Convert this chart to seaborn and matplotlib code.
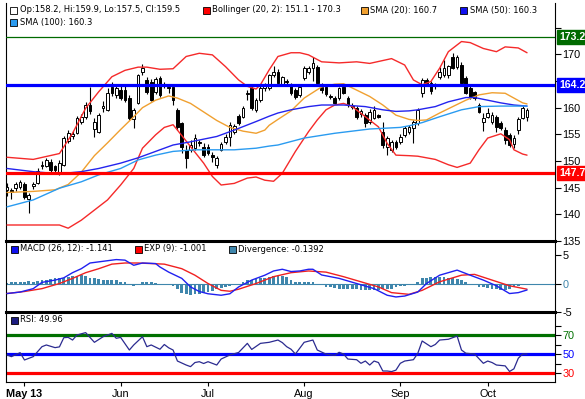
import matplotlib
matplotlib.use("Agg")
import matplotlib.pyplot as plt
import matplotlib.transforms as mtransforms
from matplotlib.patches import Rectangle
import seaborn as sns

# ------------------------------------------------------------------ data
month_ticks = [4, 26, 46, 68, 90, 110]
month_labels = ["May 13", "Jun", "Jul", "Aug", "Sep", "Oct"]

opens = [144.6, 144.6, 145.0, 145.2, 145.7, 142.9, 145.3, 145.8, 149.0, 149.0,
         149.9, 149.0, 147.8, 149.3, 153.8, 154.6, 155.3, 157.4, 158.3, 160.5,
         156.0, 155.5, 160.0, 159.6, 163.9, 162.4, 163.3, 163.3, 161.8, 157.9,
         160.9, 166.6, 165.2, 164.9, 163.0, 165.6, 164.2, 163.9, 163.9, 159.6,
         157.1, 152.1, 152.0, 152.4, 153.6, 152.6, 152.6, 151.1, 149.3, 152.1,
         153.6, 154.5, 155.4, 158.4, 158.3, 162.6, 163.7, 159.6, 161.4, 163.7,
         163.7, 166.1, 166.7, 164.3, 165.0, 164.3, 163.3, 162.4, 165.6, 166.6,
         167.5, 167.6, 163.9, 163.9, 162.1, 161.8, 161.8, 163.9, 161.8, 160.3,
         160.0, 158.8, 158.6, 157.3, 158.1, 158.6, 155.5, 152.6, 152.1, 153.6,
         153.6, 154.9, 155.4, 156.2, 157.1, 162.8, 165.2, 164.6, 164.0, 165.8,
         166.1, 166.1, 169.5, 167.6, 168.0, 165.6, 163.7, 162.9, 160.5, 157.3,
         158.3, 157.3, 158.3, 157.1, 155.8, 154.9, 153.2, 155.8, 158.1, 158.2]
highs = [145.8, 145.0, 146.0, 146.5, 146.0, 144.0, 146.0, 148.6, 150.0, 150.6,
         150.4, 149.3, 150.2, 154.6, 155.8, 155.6, 158.4, 158.8, 161.0, 163.9,
         158.0, 159.0, 161.2, 163.6, 164.8, 164.3, 164.3, 164.0, 162.4, 160.0,
         166.4, 168.2, 165.8, 165.4, 165.8, 166.0, 164.8, 164.5, 164.2, 160.0,
         157.4, 153.0, 154.0, 155.0, 154.0, 153.4, 153.2, 151.6, 151.0, 153.6,
         155.0, 157.3, 157.0, 158.8, 160.4, 163.4, 164.4, 161.8, 164.0, 164.6,
         166.4, 167.8, 167.2, 166.0, 165.4, 164.6, 163.6, 164.2, 167.8, 167.8,
         169.5, 168.0, 164.6, 164.2, 162.6, 162.2, 163.9, 164.3, 162.2, 160.8,
         160.3, 159.7, 159.0, 159.8, 160.4, 158.9, 157.3, 154.6, 154.0, 154.0,
         155.0, 156.5, 156.8, 157.6, 160.0, 165.5, 165.6, 165.0, 164.6, 167.6,
         169.0, 168.0, 170.2, 169.8, 168.6, 166.0, 164.0, 163.2, 160.9, 159.0,
         160.0, 159.2, 158.7, 157.5, 156.4, 155.3, 154.9, 158.2, 160.3, 159.9]
lows = [143.5, 142.8, 144.3, 144.8, 142.8, 140.3, 144.8, 145.6, 148.5, 148.8,
        148.0, 148.0, 147.3, 149.0, 153.4, 154.2, 155.0, 157.0, 157.8, 158.9,
        154.5, 155.2, 159.2, 159.3, 162.2, 161.8, 161.4, 161.0, 157.6, 156.2,
        160.6, 166.2, 162.5, 161.2, 162.6, 162.0, 163.6, 162.8, 160.5, 155.8,
        151.5, 148.7, 151.6, 152.0, 152.8, 150.8, 151.2, 149.8, 148.6, 151.8,
        153.2, 152.8, 155.0, 156.8, 158.0, 161.5, 159.5, 159.2, 161.0, 163.2,
        163.3, 165.8, 164.2, 164.0, 164.3, 162.4, 161.6, 162.0, 165.2, 166.3,
        165.0, 164.3, 162.8, 162.2, 161.6, 160.6, 161.4, 162.5, 160.2, 159.8,
        157.8, 158.2, 156.4, 157.0, 157.8, 158.0, 152.5, 151.1, 151.6, 152.2,
        153.2, 154.5, 155.0, 153.4, 156.8, 162.0, 164.0, 162.6, 163.5, 165.4,
        165.8, 165.6, 167.2, 167.3, 164.2, 162.5, 161.6, 161.5, 159.0, 155.6,
        158.0, 157.0, 155.4, 155.8, 153.2, 152.6, 152.4, 155.0, 157.8, 157.5]
closes = [145.2, 144.2, 145.7, 146.1, 143.2, 143.6, 145.6, 148.2, 149.3, 150.2,
          148.4, 148.3, 149.6, 154.3, 155.3, 155.0, 158.1, 158.3, 160.5, 159.3,
          157.4, 158.6, 160.3, 162.8, 162.7, 163.7, 161.8, 161.4, 158.1, 159.6,
          166.2, 167.5, 162.9, 161.5, 165.3, 162.4, 164.3, 163.6, 161.4, 156.4,
          152.6, 150.6, 153.0, 154.3, 153.3, 151.1, 151.5, 150.8, 150.6, 153.2,
          154.5, 156.8, 156.6, 157.2, 160.0, 162.8, 160.0, 161.4, 163.7, 164.3,
          166.1, 166.6, 164.6, 165.8, 164.8, 162.8, 162.0, 163.9, 167.5, 167.5,
          168.4, 164.6, 163.3, 162.6, 162.0, 160.9, 163.7, 162.8, 160.5, 160.2,
          158.3, 159.4, 157.1, 159.2, 159.6, 158.2, 153.0, 154.3, 153.6, 152.6,
          154.5, 156.2, 156.4, 157.3, 159.6, 165.2, 164.6, 163.1, 164.2, 166.7,
          167.4, 167.8, 167.5, 169.5, 164.6, 162.8, 162.0, 161.8, 159.2, 158.1,
          159.0, 158.6, 156.4, 156.2, 154.0, 153.0, 154.3, 157.9, 160.0, 159.5]

sma20_x = [0, 6, 11, 14, 17, 20, 23, 26, 29, 31, 34, 37, 39, 42, 45, 48, 51, 54,
           57, 59, 60, 62, 65, 68, 72, 75, 77, 80, 83, 86, 89, 92, 94, 96, 99,
           102, 105, 108, 111, 114, 116, 118, 119]
sma20_v = [144.1, 144.3, 144.6, 145.6, 147.9, 151.0, 153.4, 155.9, 158.3, 160.0,
           161.4, 162.2, 161.8, 160.8, 159.2, 157.6, 156.3, 155.6, 155.2, 155.8,
           156.7, 157.8, 159.4, 161.8, 163.9, 164.4, 164.5, 163.3, 162.1, 160.5,
           158.6, 157.8, 157.6, 157.7, 159.0, 160.2, 161.4, 162.4, 162.8, 162.7,
           161.8, 160.9, 160.7]

sma50_x = [0, 6, 12, 17, 21, 26, 30, 34, 38, 42, 48, 52, 57, 60, 62, 65, 69, 72,
           77, 82, 86, 89, 92, 94, 98, 101, 105, 107, 110, 113, 116, 119]
sma50_v = [148.6, 148.0, 147.6, 148.0, 148.6, 149.6, 150.6, 151.8, 153.0, 153.6,
           154.6, 155.8, 157.4, 158.4, 159.0, 159.6, 160.2, 160.5, 160.5, 160.2,
           159.6, 159.3, 159.4, 159.6, 160.2, 161.1, 161.9, 161.9, 161.4, 160.9,
           160.5, 160.3]

sma100_x = [0, 6, 12, 17, 21, 26, 30, 34, 38, 43, 48, 52, 57, 60, 62, 68, 75, 83,
            90, 92, 95, 99, 104, 108, 113, 119]
sma100_v = [141.4, 142.7, 144.9, 146.1, 147.4, 148.6, 150.2, 151.1, 151.8, 152.1,
            152.1, 152.1, 152.4, 152.8, 153.0, 154.3, 155.2, 156.0, 156.3, 156.6,
            157.2, 158.3, 159.6, 160.2, 160.3, 160.3]

boll_up_x = [0, 6, 12, 15, 18, 21, 24, 27, 30, 32, 35, 38, 41, 44, 47, 50, 53,
             55, 57, 58, 60, 62, 65, 67, 69, 72, 76, 80, 83, 88, 91, 93, 95, 97,
             99, 101, 104, 106, 109, 112, 114, 117, 119]
boll_up_v = [150.7, 150.3, 151.4, 155.2, 159.9, 163.0, 165.8, 167.0, 167.6, 167.6,
             167.2, 167.3, 169.6, 170.2, 169.9, 167.7, 165.2, 164.0, 163.5, 164.3,
             167.1, 169.6, 170.3, 170.3, 169.9, 168.6, 168.4, 168.6, 168.3, 169.2,
             168.0, 165.2, 164.3, 164.9, 167.4, 170.5, 172.4, 172.2, 171.1, 170.5,
             171.4, 171.2, 170.3]

boll_lo_x = [0, 6, 12, 14, 17, 20, 23, 26, 29, 31, 34, 36, 38, 39, 42, 45, 47, 49,
             52, 55, 57, 59, 61, 63, 66, 69, 71, 73, 75, 77, 79, 82, 85, 87, 89,
             92, 94, 98, 101, 103, 106, 108, 110, 113, 115, 116, 118, 119]
boll_lo_v = [138.0, 138.0, 138.0, 137.4, 138.9, 140.8, 142.7, 145.5, 148.6, 152.4,
             154.9, 156.3, 156.8, 155.8, 152.7, 149.6, 147.1, 145.5, 145.8, 146.8,
             147.0, 146.4, 146.2, 147.7, 151.8, 155.5, 157.7, 159.6, 160.5, 160.8,
             160.2, 158.3, 156.4, 153.3, 151.1, 151.0, 150.9, 150.3, 149.3, 148.8,
             149.6, 152.1, 154.3, 155.1, 154.0, 152.1, 151.3, 151.1]

level_top = 173.2
level_mid = 164.2
level_low = 147.7

macd_x = [0, 3, 6, 8, 11, 13, 15, 17, 19, 22, 25, 27, 29, 31, 34, 35, 37, 40, 42,
          44, 46, 49, 51, 53, 56, 59, 61, 63, 65, 67, 69, 70, 72, 76, 80, 84, 87,
          89, 91, 94, 96, 99, 103, 106, 109, 112, 115, 117, 119]
macd_v = [-1.76, -1.5, -0.9, 0.2, 0.6, 1.0, 1.9, 2.6, 3.6, 3.9, 4.2, 4.1, 3.2,
          3.6, 3.5, 2.9, 2.0, 0.9, -0.6, -1.4, -1.8, -2.06, -1.8, -0.6, 0.6, 1.46,
          2.2, 2.5, 2.1, 2.2, 2.5, 2.5, 1.5, 0.9, 0.0, -0.9, -2.06, -2.36, -2.2,
          -1.5, 0.0, 1.46, 2.35, 1.46, 0.6, -0.4, -1.76, -1.6, -1.14]

signal_x = [0, 4, 8, 12, 15, 18, 21, 24, 27, 30, 33, 36, 38, 40, 43, 46, 49, 51,
            53, 57, 61, 65, 69, 73, 77, 81, 85, 88, 92, 95, 99, 104, 107, 111,
            115, 119]
signal_v = [-1.76, -1.4, -0.9, 0.0, 0.9, 1.9, 2.6, 3.4, 3.6, 3.6, 3.5, 3.4, 3.0,
            2.6, 1.46, 0.0, -1.2, -1.36, -1.0, 0.0, 1.2, 1.9, 2.2, 2.0, 1.2, 0.3,
            -0.6, -1.6, -1.9, -1.2, 0.3, 1.46, 1.6, 0.6, -0.4, -1.0]

divergence = [0.1, 0.3, 0.3, 0.2, 0.3, 0.4, 0.3,
              0.5, 0.6, 0.6,
              0.8, 0.9, 0.9, 1.0,
              1.2, 1.3, 1.4, 1.5, 1.4,
              1.0, 0.9,
              0.8, 0.7, 0.7, 0.6, 0.6,
              0.3, 0.2,
              -0.2, -0.4, 0.0,
              0.3, 0.3, 0.2, 0.1,
              -0.2, -0.3, -0.3,
              -0.5, -0.9,
              -1.6, -1.9, -2.0, -1.9,
              -1.8, -1.7, -1.5, -1.3,
              -1.0, -0.8, -0.6, -0.5,
              -0.2, 0.0,
              0.3, 0.6, 0.7, 0.8, 0.9,
              1.0, 1.2, 1.3, 1.4, 1.3, 1.1,
              0.6, 0.3, 0.3, 0.3, 0.3, 0.2,
              0.0, -0.2,
              -0.6, -0.7, -0.8, -0.9, -0.9, -0.9, -0.9,
              -1.0, -1.1, -1.2, -1.2, -1.2, -1.1, -1.0, -0.9,
              -0.9, -0.7, -0.5, -0.4, -0.3,
              0.0, 0.3,
              0.9, 1.0, 1.1, 1.2, 1.2, 1.1, 1.0, 0.9, 0.8, 0.6,
              0.3, 0.0, -0.1,
              -0.6, -0.7, -0.8, -0.9, -1.0, -1.1, -1.1, -0.9, -0.7, -0.5, -0.3,
              -0.14]

rsi_x = [0, 1, 3, 4, 6, 8, 9, 11, 12, 13, 14, 15, 16, 18, 20, 22, 24, 25, 26, 28,
         29, 31, 32, 33, 35, 36, 37, 38, 39, 41, 42, 43, 44, 45, 46, 48, 49, 51,
         53, 55, 56, 58, 60, 62, 63, 64, 65, 66, 68, 70, 71, 73, 75, 76, 77, 78,
         80, 81, 82, 83, 84, 85, 86, 87, 88, 89, 90, 91, 93, 94, 95, 97, 98, 99,
         101, 103, 104, 105, 107, 109, 110, 111, 112, 114, 115, 116, 117, 118,
         119]
rsi_v = [49.0, 47.2, 51.4, 43.7, 47.2, 57.7, 59.5, 56.7, 57.5, 67.2, 67.5, 64.7,
         70.0, 72.5, 62.3, 68.2, 71.7, 66.5, 67.5, 54.2, 59.5, 68.2, 57.7, 59.5,
         55.0, 60.0, 56.5, 54.2, 42.6, 38.4, 36.7, 41.0, 41.9, 40.0, 41.9, 38.4,
         44.7, 49.0, 51.6, 61.2, 54.8, 61.2, 62.3, 64.7, 62.0, 57.7, 55.0, 50.0,
         62.3, 64.7, 54.2, 49.9, 48.5, 51.8, 50.0, 44.7, 44.0, 40.2, 42.6, 38.4,
         42.6, 41.0, 32.1, 32.1, 31.5, 33.0, 40.2, 42.6, 44.0, 50.7, 63.7, 57.7,
         60.0, 64.7, 65.5, 68.9, 54.2, 50.8, 50.0, 40.2, 42.6, 41.0, 38.4, 37.5,
         31.6, 34.4, 45.5, 50.0, 49.96]

legend_main = [("Op:158.2, Hi:159.9, Lo:157.5, Cl:159.5", "#FFFFFF", 10, 10),
               ("Bollinger (20, 2): 151.1 - 170.3", "#FF0000", 203, 10),
               ("SMA (20): 160.7", "#F0A030", 361, 10),
               ("SMA (50): 160.3", "#1010F0", 460, 10),
               ("SMA (100): 160.3", "#2A9BF0", 10, 22)]
legend_macd = [("MACD (26, 12): -1.141", "#1010F0", 11, 249),
               ("EXP (9): -1.001", "#FF0000", 135, 249),
               ("Divergence: -0.1392", "#3F86AC", 229, 249)]
legend_rsi = [("RSI: 49.96", "#1C1C80", 11, 320)]

# ------------------------------------------------------------------ style
sns.set_theme(style="white")
plt.rcParams["font.family"] = ["DejaVu Sans"]

W, H = 585, 399
fig = plt.figure(figsize=(W / 100, H / 100), dpi=100)
fig.patch.set_facecolor("white")

X0, X1 = 6, 555
def add_ax(y_top, y_bot):
    return fig.add_axes([X0 / W, 1 - y_bot / H, (X1 - X0) / W, (y_bot - y_top) / H])

ax = add_ax(3, 241)
axm = add_ax(241, 312)
axr = add_ax(312, 382)

px_per_day = 4.37
xlim = ((X0 - 7) / px_per_day, (X1 - 7) / px_per_day)
TICKFONT = "Liberation Sans"

for a in (ax, axm, axr):
    a.set_facecolor("white")
    a.set_xlim(*xlim)
    a.yaxis.tick_right()
    a.tick_params(axis="y", direction="out", length=4, width=0.8, pad=1.5,
                  labelsize=7.8, colors="black", left=False, right=True)
    for s in a.spines.values():
        s.set_color("black")
        s.set_linewidth(0.8)
    a.grid(False)

# ---- main price panel
idx = list(range(len(closes)))
body_bottom = [min(o, c) for o, c in zip(opens, closes)]
body_height = [max(abs(c - o), 0.12) for o, c in zip(opens, closes)]
body_color = ["white" if c >= o else "black" for o, c in zip(opens, closes)]

ax.vlines(idx, lows, highs, color="black", linewidth=0.8, zorder=2)
ax.bar(idx, body_height, bottom=body_bottom, width=0.62, color=body_color,
       edgecolor="black", linewidth=0.7, zorder=3)

sns.lineplot(x=boll_up_x, y=boll_up_v, ax=ax, color="#F52A2A", linewidth=1.0, zorder=4)
sns.lineplot(x=boll_lo_x, y=boll_lo_v, ax=ax, color="#F52A2A", linewidth=1.0, zorder=4)
sns.lineplot(x=sma20_x, y=sma20_v, ax=ax, color="#F0A030", linewidth=1.0, zorder=4)
sns.lineplot(x=sma50_x, y=sma50_v, ax=ax, color="#2424EE", linewidth=1.0, zorder=4)
sns.lineplot(x=sma100_x, y=sma100_v, ax=ax, color="#2A9BF0", linewidth=1.0, zorder=4)

ax.axhline(level_top, color="#006A00", linewidth=0.9, zorder=5)
ax.axhline(level_mid, color="#0000FF", linewidth=2.3, zorder=5)
ax.axhline(level_low, color="#FF0000", linewidth=2.3, zorder=5)

ax.set_ylim(135, 135 + 238 / 5.333)
ax.set_yticks([135, 140, 145, 150, 155, 160, 165, 170, 175])
ax.set_yticklabels(["135", "140", "145", "150", "155", "160", "", "170", ""],
                   family=TICKFONT, fontsize=7.8)
ax.spines["top"].set_visible(False)
ax.spines["bottom"].set_visible(False)
ax.set_xticks([])
ax.set_xlabel("")
ax.set_ylabel("")

blend = mtransforms.blended_transform_factory(ax.transAxes, ax.transData)
for val, col in ((level_top, "#006A00"), (level_mid, "#0000FF"), (level_low, "#FF0000")):
    ax.text(1.0 + 4 / (X1 - X0), val, f"{val:.1f}", transform=blend, ha="left",
            va="center", color="white", fontweight="bold", fontsize=7.6,
            family=TICKFONT, clip_on=False, zorder=10,
            bbox=dict(boxstyle="square,pad=0.18", fc=col, ec=col))

# ---- MACD panel
axm.bar(idx, divergence, width=0.64, color="#3F86AC", linewidth=0, zorder=2)
axm.axhline(0, color="#3F86AC", linewidth=0.8, zorder=1)
sns.lineplot(x=signal_x, y=signal_v, ax=axm, color="#F02020", linewidth=1.0, zorder=3)
sns.lineplot(x=macd_x, y=macd_v, ax=axm, color="#2020F0", linewidth=1.0, zorder=3)
axm.set_ylim(-5, 283.3 / 5.67 - 241 / 5.67)
axm.set_yticks([-5, 0, 5])
axm.set_yticklabels(["-5", "0", "5"], family=TICKFONT, fontsize=7.8)
axm.get_yticklabels()[1].set_color("#3F86AC")
axm.spines["top"].set_linewidth(2.2)
axm.spines["bottom"].set_visible(False)
axm.set_xticks([])
axm.set_xlabel("")
axm.set_ylabel("")

# ---- RSI panel
axr.axhline(70, color="#007000", linewidth=2.3, zorder=1)
axr.axhline(50, color="#0000FF", linewidth=2.3, zorder=1)
axr.axhline(30, color="#FF0000", linewidth=2.3, zorder=1)
sns.lineplot(x=rsi_x, y=rsi_v, ax=axr, color="#2B2B90", linewidth=0.9, zorder=3)
axr.set_ylim(50 - 28 / 0.95, 50 + 42 / 0.95)
axr.set_yticks([30, 40, 50, 60, 70, 80])
axr.set_yticklabels(["30", "", "50", "", "70", ""], family=TICKFONT, fontsize=7.8)
for lab, col in zip(axr.get_yticklabels(),
                    ["#FF0000", "black", "#0000FF", "black", "#007000", "black"]):
    lab.set_color(col)
axr.spines["top"].set_linewidth(2.2)
axr.set_xticks(month_ticks)
axr.set_xticklabels(month_labels, family=TICKFONT, fontsize=7.8)
axr.get_xticklabels()[0].set_fontweight("bold")
axr.tick_params(axis="x", direction="out", length=3, width=0.8, pad=2,
                bottom=True, colors="black")
axr.set_xlabel("")
axr.set_ylabel("")

# ---- legends
def legend_item(text, col, x, y):
    fig.add_artist(Rectangle((x / W, 1 - (y + 3.5) / H), 6.5 / W, 6.5 / H,
                             transform=fig.transFigure, facecolor=col,
                             edgecolor="black", linewidth=0.6))
    fig.text((x + 9.5) / W, 1 - y / H, text, fontsize=6.0, ha="left",
             va="center", color="black")

for item in legend_main + legend_macd + legend_rsi:
    legend_item(*item)

fig.savefig("out.png", dpi=100, facecolor="white")
